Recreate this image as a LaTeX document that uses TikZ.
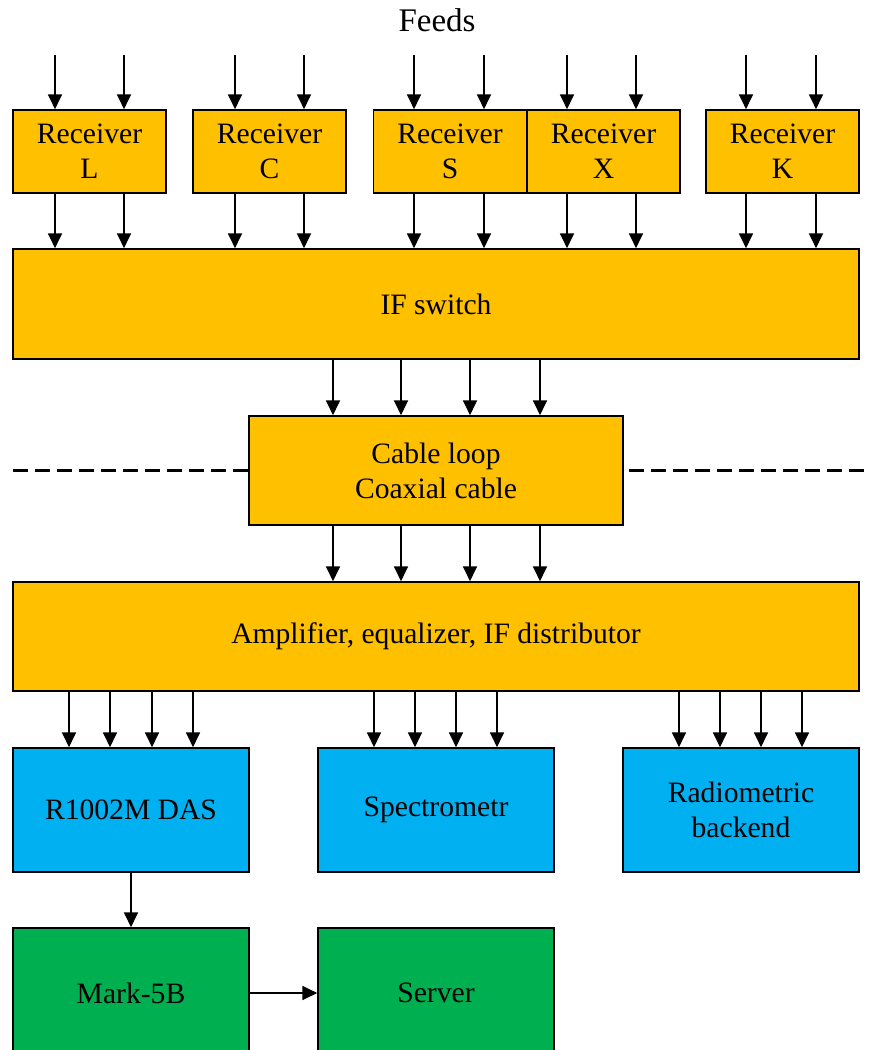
\documentclass[tikz,border=0pt]{standalone}
\usepackage{fontspec}
\setmainfont{Liberation Serif}
\usetikzlibrary{arrows.meta}
\definecolor{orangebox}{HTML}{FFC000}
\definecolor{bluebox}{HTML}{00B0F0}
\definecolor{greenbox}{HTML}{00B050}
\tikzset{
  box/.style={draw=black, line width=1.3pt, align=center, inner sep=0pt,
    font=\fontsize{22.2}{26.25}\selectfont},
  obox/.style={box, fill=orangebox},
  bbox/.style={box, fill=bluebox},
  gbox/.style={box, fill=greenbox},
  rcv/.style={obox, minimum width=114.75pt, minimum height=62.25pt},
  arr/.style={line width=1pt, -{Triangle[length=11pt,width=10.5pt]}},
  divider/.style={line width=1.6pt, dash pattern=on 11pt off 5.5pt}
}
\begin{document}
\begin{tikzpicture}[x=0.75pt,y=-0.75pt]
\useasboundingbox (0,0) rectangle (871,1050);
\clip (0,0) rectangle (871,1050);

\node[font=\fontsize{24.75}{29}\selectfont] (feeds) at (437,20) {Feeds};

% receivers
\node[rcv] (L) at (89.5,151.5) {Receiver\\L};
\node[rcv] (C) at (269.5,151.5) {Receiver\\C};
\node[rcv] (S) at (450,151.5) {Receiver\\S};
\node[rcv] (X) at (603.5,151.5) {Receiver\\X};
\node[rcv] (K) at (782.5,151.5) {Receiver\\K};

\node[obox, minimum width=634.5pt, minimum height=82.5pt] (IF) at (436,304) {IF switch};
\node[obox, minimum width=280.5pt, minimum height=81.75pt] (CL) at (436,470.5) {Cable loop\\Coaxial cable};
\node[obox, minimum width=634.5pt, minimum height=81.75pt] (AMP) at (436,636.5) {Amplifier, equalizer, IF distributor};

\node[bbox, minimum width=177pt, minimum height=93pt] (DAS) at (131,810) {R1002M DAS};
\node[bbox, minimum width=177pt, minimum height=93pt] (SPEC) at (436,810) {Spectrometr};
\node[bbox, minimum width=177pt, minimum height=93pt] (RAD) at (741,810) {Radiometric\\backend};

\node[gbox, minimum width=177pt, minimum height=97.5pt] (MARK) at (131,993) {Mark-5B};
\node[gbox, minimum width=177pt, minimum height=97.5pt] (SRV) at (436,993) {Server};

% feed and receiver arrows
\foreach \n/\a/\b in {L/55/124, C/235/304, S/414/484, X/567/636, K/746/816} {
  \coordinate (f\n a) at (\a,55);
  \coordinate (f\n b) at (\b,55);
  \draw[arr] (f\n a) -- (f\n a |- \n.north);
  \draw[arr] (f\n b) -- (f\n b |- \n.north);
  \draw[arr] (f\n a |- \n.south) -- (f\n a |- IF.north);
  \draw[arr] (f\n b |- \n.south) -- (f\n b |- IF.north);
}

% IF switch -> cable loop -> amplifier
\foreach \x in {333,401,470,540} {
  \coordinate (m\x) at (\x,0);
  \draw[arr] (m\x |- IF.south) -- (m\x |- CL.north);
  \draw[arr] (m\x |- CL.south) -- (m\x |- AMP.north);
}

% dashed divider
\coordinate (dl) at (13,470.5);
\coordinate (dr) at (866,470.5);
\draw[divider] (dl) -- (dl -| CL.west);
\draw[divider] ([xshift=4pt]CL.east |- dr) -- (dr);

% amplifier -> backends
\foreach \x/\t in {69/DAS,110/DAS,152/DAS,193/DAS,374/SPEC,415/SPEC,456/SPEC,497/SPEC,679/RAD,720/RAD,761/RAD,802/RAD} {
  \coordinate (b\x) at (\x,0);
  \draw[arr] (b\x |- AMP.south) -- (b\x |- \t.north);
}

\draw[arr] (DAS.south) -- (MARK.north);
\draw[arr] (MARK.east) -- (SRV.west);
\end{tikzpicture}
\end{document}
